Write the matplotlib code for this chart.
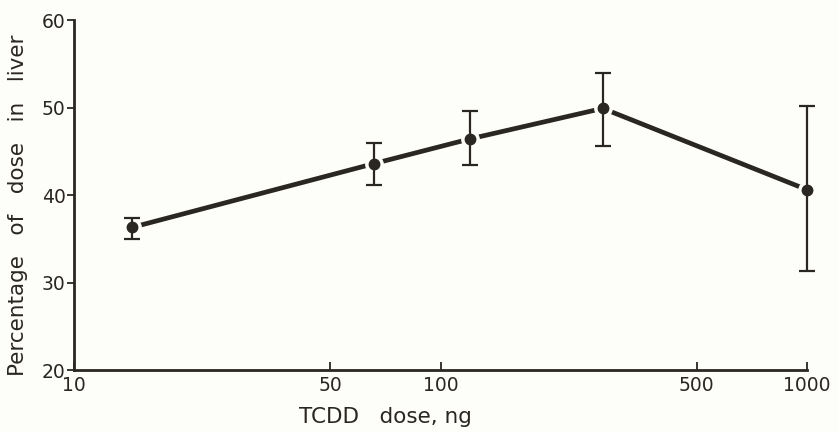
import matplotlib
matplotlib.use("Agg")
import matplotlib.pyplot as plt
import numpy as np

# TCDD dose (ng) vs. percentage of dose recovered in liver, mean with range
dose_ng = [14.4, 66, 120, 277, 1000]
liver_pct = [36.3, 43.6, 46.4, 49.9, 40.6]
err_low = [35.0, 41.1, 43.4, 45.6, 31.3]
err_high = [37.4, 45.9, 49.6, 53.9, 50.2]

x_ticks = [10, 50, 100, 500, 1000]
x_ticklabels = ["10", "50", "100", "500", "1000"]
y_ticks = [20, 30, 40, 50, 60]

INK = "#2a2622"
PAPER = "#fdfdf9"

plt.rcParams.update({
    "font.family": "sans-serif",
    "font.sans-serif": ["DejaVu Sans"],
    "text.color": INK,
    "axes.edgecolor": INK,
    "xtick.color": INK,
    "ytick.color": INK,
})

fig = plt.figure(figsize=(8.39, 4.32), dpi=100, facecolor=PAPER)
ax = fig.add_axes([0.0882, 0.1435, 0.8738, 0.8102], facecolor=PAPER)

x = np.array(dose_ng)
y = np.array(liver_pct)
yerr = np.array([y - np.array(err_low), np.array(err_high) - y])

# connecting line, with a small paper-coloured halo left round each point
ax.plot(x, y, color=INK, lw=3.4, solid_capstyle="butt", zorder=2, clip_on=False)
ax.plot(x, y, ls="none", marker="o", ms=12.5, color=PAPER, zorder=3, clip_on=False)
_, caps, bars = ax.errorbar(x, y, yerr=yerr, fmt="none", ecolor=INK,
                            elinewidth=1.6, capsize=6, capthick=1.6, zorder=4)
for art in list(caps) + list(bars):
    art.set_clip_on(False)
ax.plot(x, y, ls="none", marker="o", ms=7.5, color=INK, zorder=5, clip_on=False)

ax.set_xscale("log")
ax.set_xlim(10, 1000)
ax.set_ylim(20, 60)
ax.set_xticks(x_ticks)
ax.set_xticklabels(x_ticklabels)
ax.xaxis.set_minor_locator(matplotlib.ticker.NullLocator())
ax.set_yticks(y_ticks)

for side in ("top", "right"):
    ax.spines[side].set_visible(False)
for side in ("left", "bottom"):
    ax.spines[side].set_linewidth(2.0)

ax.tick_params(axis="x", direction="in", length=6, width=1.3, labelsize=13.5, pad=4)
ax.tick_params(axis="y", direction="out", length=5, width=1.3, labelsize=13.5, pad=1)

fig.text(0.459, 0.035, "TCDD   dose, ng", fontsize=15.5, ha="center", va="center")
fig.text(0.022, 0.525, "Percentage   of   dose   in   liver", fontsize=15.5,
         rotation=90, ha="center", va="center")

fig.savefig("out.png", dpi=100, facecolor=PAPER)
